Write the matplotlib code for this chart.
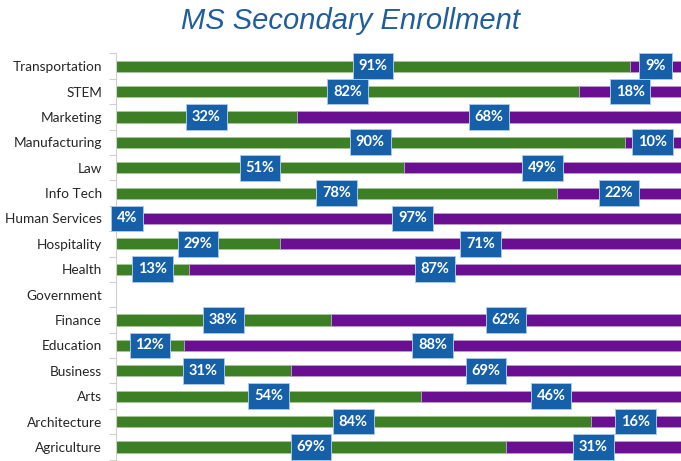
import numpy as np
import matplotlib
matplotlib.use('Agg')
import matplotlib.pyplot as plt

# Data (top to bottom as shown)
categories = ['Transportation', 'STEM', 'Marketing', 'Manufacturing', 'Law',
              'Info Tech', 'Human Services', 'Hospitality', 'Health', 'Government',
              'Finance', 'Education', 'Business', 'Arts', 'Architecture', 'Agriculture']
green_pct = [91, 82, 32, 90, 51, 78, 4, 29, 13, 0, 38, 12, 31, 54, 84, 69]
purple_pct = [9, 18, 68, 10, 49, 22, 97, 71, 87, 0, 62, 88, 69, 46, 16, 31]

GREEN = '#3d7f24'
PURPLE = '#6a0f92'
BOX = '#1660a9'

plt.rcParams['font.family'] = ['Lato', 'DejaVu Sans']

fig = plt.figure(figsize=(6.81, 4.61), dpi=100)
ax = fig.add_axes([116 / 681, 0.003, 1 - 116 / 681, 0.881])

y = np.arange(len(categories))[::-1]
g = np.array(green_pct, dtype=float)
p = np.array(purple_pct, dtype=float)

ax.barh(y, g, height=0.44, color=GREEN, edgecolor='#a9c79b', linewidth=0.6)
ax.barh(y, p, left=g, height=0.44, color=PURPLE, edgecolor='#b79fc9', linewidth=0.6)

box = dict(boxstyle='square,pad=0.4', facecolor=BOX, edgecolor='#a7c6e8', linewidth=0.7)
for yi, gv, pv in zip(y, g, p):
    if gv > 0:
        ax.text(gv / 2, yi, f'{gv:.0f}%', ha='center', va='center', color='white',
                fontsize=10.5, fontweight='bold', bbox=box, clip_on=False)
    if pv > 0:
        ax.text(gv + pv / 2, yi, f'{pv:.0f}%', ha='center', va='center', color='white',
                fontsize=10.5, fontweight='bold', bbox=box, clip_on=False)

ax.set_xlim(0, 100)
ax.set_ylim(-0.5, len(categories) - 0.5)
ax.set_yticks(y)
ax.set_yticklabels(categories, fontsize=9.8, color='#262626')
ax.tick_params(axis='y', which='major', length=0, pad=10)
ax.set_yticks(np.arange(-0.5, len(categories), 1.0), minor=True)
ax.tick_params(axis='y', which='minor', length=5, color='#d0d0d0', width=0.8)
ax.set_xticks([])
for s in ['top', 'right', 'bottom']:
    ax.spines[s].set_visible(False)
ax.spines['left'].set_color('#d0d0d0')
ax.spines['left'].set_linewidth(0.8)

fig.text(0.515, 0.955, 'MS Secondary Enrollment', ha='center', va='center',
         fontsize=21, style='italic', color='#1f5d9c', family='Liberation Sans')

fig.savefig('out.png', dpi=100)
